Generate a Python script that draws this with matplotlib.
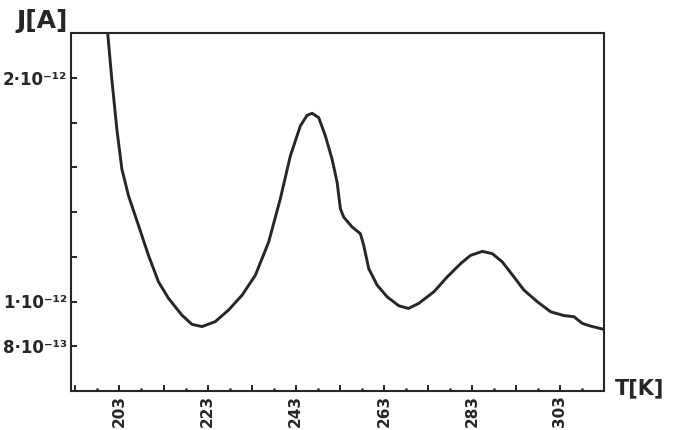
"""
Thermally stimulated current J(T) - recreation of a scanned hand-drawn plot.
"""

import matplotlib
matplotlib.use("Agg")
import matplotlib.pyplot as plt
import numpy as np


# temperature [K] and current [units of 1e-12 A]
T_K = [199.87, 200.36, 201.27, 202.41, 203.55, 205.05, 207.32, 209.59, 211.86, 214.14,
       217.18, 219.45, 221.73, 224.75, 227.77, 230.82, 233.84, 236.86, 239.52, 241.8,
       244.07, 245.59, 246.73, 248.23, 249.75, 251.27, 252.41, 253.16, 253.91, 255.82,
       257.7, 258.45, 259.59, 261.5, 263.77, 266.4, 268.61, 270.89, 274.36, 277.41,
       280.43, 282.7, 285.36, 287.64, 289.91, 292.55, 294.82, 297.86, 300.89, 303.91,
       306.18, 308.09, 309.98, 312.64, 313.2]
J_1E12 = [2.30, 2.193, 1.992, 1.770, 1.592, 1.473, 1.340, 1.206, 1.088, 1.014,
          0.939, 0.898, 0.888, 0.910, 0.962, 1.028, 1.117, 1.265, 1.459, 1.651,
          1.785, 1.832, 1.841, 1.822, 1.740, 1.636, 1.533, 1.414, 1.377, 1.333,
          1.303, 1.251, 1.147, 1.073, 1.021, 0.981, 0.969, 0.991, 1.043, 1.110,
          1.169, 1.206, 1.224, 1.214, 1.177, 1.110, 1.051, 0.999, 0.954, 0.937,
          0.932, 0.902, 0.890, 0.877, 0.875]

X_LABELED = [203, 223, 243, 263, 283, 303]
Y_LABELS = {2.0: "2·10⁻¹²", 1.0: "1·10⁻¹²", 0.8: "8·10⁻¹³"}

INK = "#262626"

fig = plt.figure(figsize=(6.74, 4.30), dpi=100)
ax = fig.add_axes([71 / 674, 1 - 391 / 430, (604 - 71) / 674, (391 - 33) / 430])

ax.plot(T_K, J_1E12, color=INK, linewidth=2.1, solid_joinstyle="round",
        solid_capstyle="round")

ax.set_xlim(192, 313)
ax.set_ylim(0.6, 2.2)

# x: major ticks every 10 K, small dotted ones in between
major_x = np.arange(193, 314, 10)
ax.set_xticks(major_x)
ax.set_xticklabels([str(t) if t in X_LABELED else "" for t in major_x],
                   rotation=90, fontsize=11, fontweight="bold", color=INK)
ax.set_xticks(np.arange(198, 313, 10), minor=True)

major_y = [0.8, 1.0, 1.2, 1.4, 1.6, 1.8, 2.0]
ax.set_yticks(major_y)
ax.set_yticklabels([Y_LABELS.get(round(v, 1), "") for v in major_y],
                   fontsize=12, fontweight="bold", color=INK)

ax.tick_params(axis="both", which="major", direction="in", length=4.5, width=1.4,
               color=INK)
ax.tick_params(axis="y", which="major", pad=3)
ax.tick_params(axis="x", which="major", pad=3)
ax.tick_params(axis="x", which="minor", direction="in", length=2.5, width=1.8, color=INK)

for s in ax.spines.values():
    s.set_linewidth(1.5)
    s.set_color(INK)

ax.text(-0.006, 1.0, "J[A]", transform=ax.transAxes, ha="right", va="bottom",
        fontsize=18, fontweight="bold", color=INK)
ax.text(1.02, 0.008, "T[K]", transform=ax.transAxes, ha="left", va="center",
        fontsize=15, fontweight="bold", color=INK)

fig.savefig("out.png", dpi=100)
